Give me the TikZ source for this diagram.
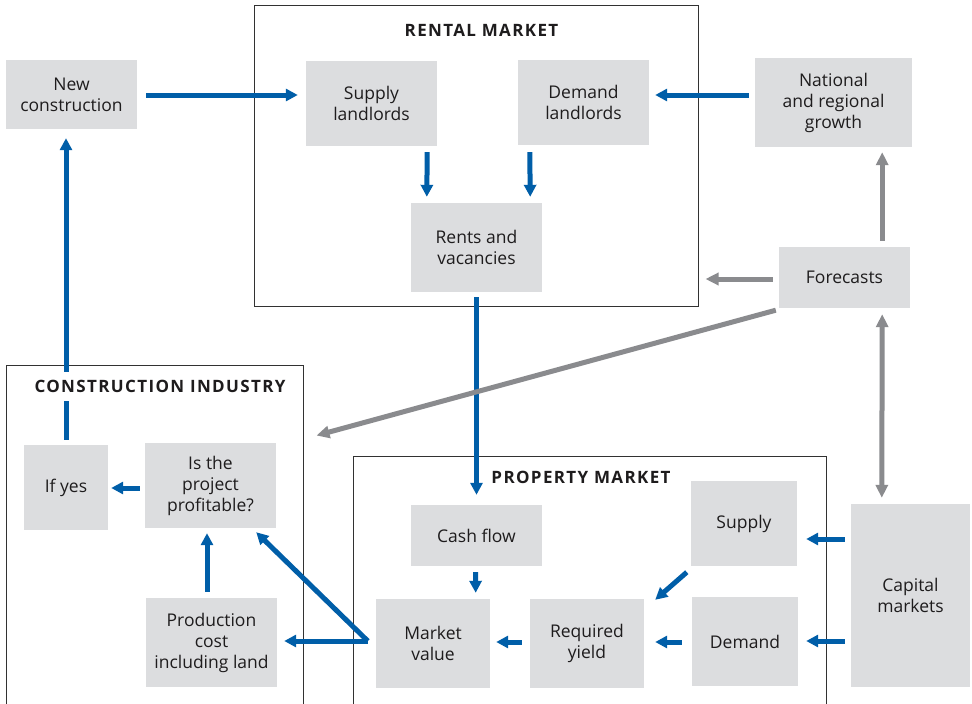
\documentclass[tikz,border=0pt]{standalone}
\usepackage{fontspec}
\setmainfont{Open Sans}
\usetikzlibrary{arrows.meta,calc}
\definecolor{flowblue}{RGB}{0,94,168}
\definecolor{flowgray}{RGB}{138,139,142}
\definecolor{boxgray}{RGB}{220,221,223}
\definecolor{inkgray}{RGB}{30,28,29}
\definecolor{framegray}{RGB}{50,50,50}
\begin{document}
\begin{tikzpicture}[x=1pt,y=-1pt,
  box/.style={fill=boxgray, inner sep=0pt, align=center, text=inkgray,
    font=\fontsize{17.5}{21}\selectfont},
  frame/.style={draw=framegray, line width=1pt, inner sep=0pt},
  heading/.style={font=\fontsize{17}{20}\selectfont\bfseries\addfontfeatures{LetterSpace=8},
    text=inkgray, fill=white, inner xsep=4pt, inner ysep=8.5pt, text height=12pt, text depth=0pt},
  barrow/.style={draw=flowblue, line width=5pt, -{Triangle[length=12pt,width=12pt]}},
  garrow/.style={draw=flowgray, line width=5pt, -{Triangle[length=13pt,width=12pt]}},
  dgarrow/.style={draw=flowgray, line width=5pt,
    {Triangle[length=13pt,width=12pt]}-{Triangle[length=13pt,width=12pt]}},
]
% page
\fill[white] (0,0) rectangle (972,704);
\useasboundingbox (0,0) rectangle (972,704);

% boxes
\node[box, minimum width=131, minimum height=69] (newc) at (71.5,94.5) {New\\construction};
\node[box, minimum width=131, minimum height=85] (suppl) at (371.5,103.5) {Supply\\landlords};
\node[box, minimum width=131, minimum height=85] (demdl) at (583.5,102.5) {Demand\\landlords};
\node[box, minimum width=131, minimum height=89] (rents) at (476.5,247.5) {Rents and\\vacancies};
\node[box, minimum width=157, minimum height=89] (natgr) at (833.5,102.5) {National\\and regional\\growth};
\node[box, minimum width=131, minimum height=61] (forec) at (844.5,277.5) {Forecasts};
\node[box, minimum width=84, minimum height=85] (ifyes) at (66,487.5) {If yes};
\node[box, minimum width=131, minimum height=85] (profit) at (210.5,485.5) {Is the\\project\\profitable?};
\node[box, minimum width=131, minimum height=89] (prodc) at (211.5,642.5) {Production\\cost\\including land};
\node[box, minimum width=131, minimum height=61] (cashf) at (476.5,535.5) {Cash flow};
\node[box, minimum width=106, minimum height=85] (supp) at (744,523.5) {Supply};
\node[box, minimum width=114, minimum height=89] (mval) at (433,643.5) {Market\\value};
\node[box, minimum width=114, minimum height=89] (ryield) at (587,643.5) {Required\\yield};
\node[box, minimum width=106, minimum height=89] (dem) at (745,641.5) {Demand};
\node[box, minimum width=119, minimum height=183] (capm) at (910.5,595.5) {Capital\\markets};

% market frames
\node[frame, minimum width=444, minimum height=301] (rentalm) at (476,155.5) {};
\node[frame, minimum width=297, minimum height=360] (constr) at (154.5,545) {};
\node[frame, minimum width=473, minimum height=270] (propm) at (589.5,591) {};

% blue flows
\draw[barrow] ($(newc.east)+(9,0.5)$) -- ($(suppl.west)+(-8,-8.5)$);
\draw[barrow] ($(natgr.west)+(-6,-7.5)$) -- ($(demdl.east)+(6,-7.5)$);
\draw[barrow] ($(suppl.south east)+(-10,6)$) -- ($(rents.north west)+(16,-6)$);
\draw[barrow] ($(demdl.south west)+(12,7)$) -- ($(rents.north east)+(-12,-6)$);
\draw[barrow] ($(rents.south)+(0,5)$) -- ($(cashf.north)+(0,-10)$);
\draw[barrow] ($(cashf.south)+(-1,6)$) -- ($(mval.north east)+(-14.5,-6)$);
\draw[barrow] ($(ryield.west)+(-8,-1.5)$) -- ($(mval.east)+(6,-1.5)$);
\draw[barrow] ($(dem.west)+(-10,0.5)$) -- ($(ryield.east)+(11,-1.5)$);
\draw[barrow] ($(capm.west)+(-6,-56.5)$) -- ($(supp.east)+(9,15.5)$);
\draw[barrow] ($(capm.west)+(-6,45.5)$) -- ($(dem.east)+(8,-0.5)$);
\draw[barrow] ($(supp.south west)+(-4,6)$) -- ($(ryield.north east)+(11,1)$);
\draw[barrow] ($(mval.west)+(-8,-2.5)$) -- ($(prodc.east)+(7,-1.5)$);
\draw[barrow] ($(mval.west)+(-8,-2.5)$) -- ($(profit.south east)+(-20,4)$);
\draw[barrow] ($(prodc.north)+(-4.5,-6)$) -- ($(profit.south)+(-3.5,5)$);
\draw[barrow] ($(profit.west)+(-5,2.5)$) -- ($(ifyes.east)+(3,0.5)$);
\draw[barrow] ($(ifyes.north)+(0,-5)$) -- ($(newc.south)+(-5.5,9)$);

% gray flows from forecasts
\draw[garrow] ($(forec.west)+(-6,1.5)$) -- ($(rentalm.east)+(7,123.5)$);
\draw[garrow] ($(forec.north east)+(-28,-6)$) -- ($(natgr.south east)+(-30,5)$);
\draw[dgarrow] ($(forec.south east)+(-28,6)$) -- ($(capm.north west)+(31,-6)$);
\draw[garrow] ($(forec.south west)+(-3,2)$) -- ($(constr.north east)+(13,71)$);

% headings
\node[heading] (rentt) at (481.5,30.5) {RENTAL MARKET};
\node[heading] (constrt) at (160,386.5) {CONSTRUCTION INDUSTRY};
\node[heading] (propt) at (581,477.5) {PROPERTY MARKET};
\end{tikzpicture}
\end{document}
